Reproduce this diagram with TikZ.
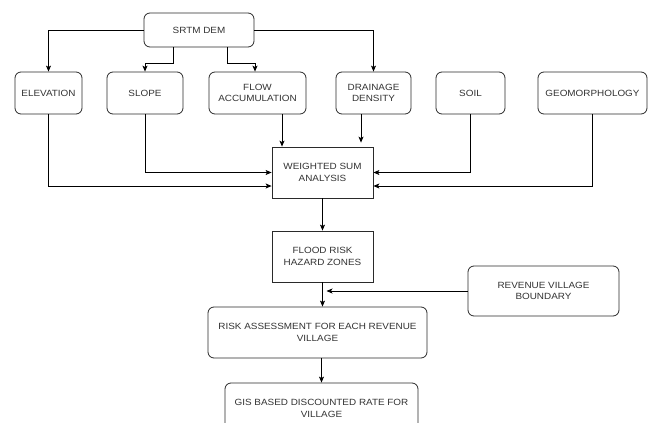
\documentclass[tikz,border=0pt]{standalone}
\usepackage{fontspec}
\setmainfont[FakeStretch=1.1]{Liberation Sans}
\usetikzlibrary{arrows.meta,calc}
\definecolor{txt}{HTML}{333333}
\definecolor{bord}{HTML}{2A2A2A}
\tikzset{
  base/.style={draw=bord, line width=0.8pt, text=txt, align=center,
    font=\fontsize{9}{11.3}\selectfont, inner sep=0pt},
  rbox/.style={base, rounded corners=6pt},
  sbox/.style={base},
  conn/.style={line width=0.8pt, draw=black, -{Stealth[length=6pt,width=5pt,inset=1.5pt]}},
}
\begin{document}
\begin{tikzpicture}[x=1pt,y=-1pt]
\useasboundingbox (0,0) rectangle (648,423);
\clip (0,0) rectangle (648,423);
\fill[white] (0,0) rectangle (648,423);

\node[rbox, minimum width=110pt, minimum height=34pt] (srtm) at (199,30) {SRTM DEM};

\node[rbox, minimum width=67pt, minimum height=42pt] (elev) at (48.5,93) {ELEVATION};
\node[rbox, minimum width=76pt, minimum height=42pt] (slope) at (145,93) {SLOPE};
\node[rbox, minimum width=97pt, minimum height=42pt] (flow) at (257.5,93) {FLOW\\ACCUMULATION};
\node[rbox, minimum width=75pt, minimum height=42pt] (drain) at (373.5,93) {DRAINAGE\\DENSITY};
\node[rbox, minimum width=69pt, minimum height=42pt] (soil) at (470.5,93) {SOIL};
\node[rbox, minimum width=109pt, minimum height=42pt] (geo) at (592.5,93) {GEOMORPHOLOGY};

\node[sbox, minimum width=101pt, minimum height=51pt] (wsa) at (322.5,172.5) {WEIGHTED SUM\\ANALYSIS};
\node[sbox, minimum width=101pt, minimum height=51pt] (flood) at (322.5,256.5) {FLOOD RISK\\HAZARD ZONES};
\node[rbox, minimum width=151pt, minimum height=50pt] (rvb) at (543.5,291) {REVENUE VILLAGE\\BOUNDARY};
\node[rbox, minimum width=219pt, minimum height=51pt] (ra) at (317.5,332.5) {RISK ASSESSMENT FOR EACH REVENUE\\VILLAGE};
\node[rbox, minimum width=193pt, minimum height=51pt] (gis) at (321.5,408.5) {GIS BASED DISCOUNTED RATE FOR\\VILLAGE};

% SRTM to layers
\draw[conn] (srtm.west) -| (elev.north);
\draw[conn] ($(srtm.south)+(-26,0)$) -- ++(0,16) -| (slope.north);
\draw[conn] ($(srtm.south)+(28,0)$) -- ++(0,16) -| ($(flow.north)+(-2.5,0)$);
\draw[conn] (srtm.east) -| (drain.north);

% layers to WSA
\draw[conn] (elev.south) |- ($(wsa.west)+(0,13.5)$);
\draw[conn] (slope.south) |- (wsa.west);
\coordinate (flowout) at ($(flow.south)+(24.5,0)$);
\draw[conn] (flowout) -- (flowout |- wsa.north);
\coordinate (drainout) at ($(drain.south)+(-12.5,0)$);
\draw[conn] (drainout) -- ($(drainout |- wsa.north)+(0,-4)$);
\draw[conn] (soil.south) |- (wsa.east);
\draw[conn] (geo.south) |- ($(wsa.east)+(0,13.5)$);

% chain
\draw[conn] (wsa.south) -- (flood.south |- flood.north);
\draw[conn] (flood.south) -- (flood.south |- ra.north);
\draw[conn] (rvb.west) -- ($(flood.south |- rvb.west)+(4,0)$);
\draw[conn] (gis.north |- ra.south) -- (gis.north);
\end{tikzpicture}
\end{document}
